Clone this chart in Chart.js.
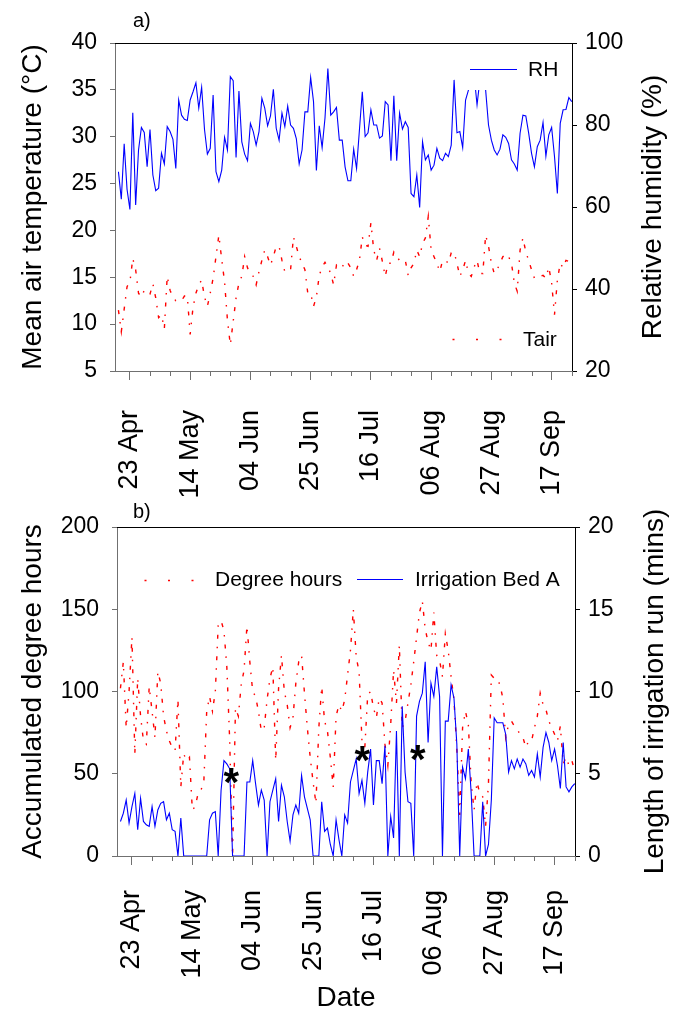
<!DOCTYPE html>
<html>
<head>
<meta charset="utf-8">
<script src="https://cdn.jsdelivr.net/npm/chart.js@4.4.1/dist/chart.umd.min.js"></script>
<style>
  body { margin: 0; background: #fff; }
  #wrap { position: relative; width: 675px; height: 1012px; background: #fff; }
  canvas { position: absolute; left: 0; }
</style>
</head>
<body>
<div id="wrap">
  <canvas id="airChart" width="675" height="500" style="top:0"></canvas>
  <canvas id="irrChart" width="675" height="512" style="top:500px"></canvas>
</div>
<script>
const FONT = "'Liberation Sans', Arial, sans-serif";
const GREY = '#707070';

// day 0 = 19 Apr, one value per day up to 24 Sep
const tickDays = [4, 25, 46, 67, 88, 109, 130, 151];
const tickLabels = ['23 Apr', '14 May', '04 Jun', '25 Jun', '16 Jul', '06 Aug', '27 Aug', '17 Sep'];

const tair = [
  11.5, 9.2, 11.6, 14.0, 14.5, 17.0, 15.8, 13.3, 12.9, 13.6,
  13.2, 13.2, 14.3, 12.8, 10.7, 11.0, 9.5, 15.1, 13.6, 12.9,
  12.5, 12.5, 12.5, 13.0, 13.0, 8.9, 11.8, 13.3, 14.2, 14.7,
  12.9, 11.9, 13.3, 14.9, 17.2, 19.5, 16.9, 14.5, 10.4, 7.8,
  10.3, 12.8, 14.4, 15.1, 17.2, 16.0, 15.4, 15.1, 14.2, 15.6,
  16.8, 17.9, 17.2, 16.3, 17.2, 18.3, 18.3, 16.8, 15.6, 15.8,
  15.8, 19.3, 18.3, 17.2, 16.5, 15.8, 13.3, 13.3, 11.9, 12.9,
  15.2, 16.1, 16.6, 16.1, 15.4, 14.2, 16.3, 16.0,
  16.3, 16.0, 16.5, 16.0, 15.1, 15.8, 16.8, 19.3, 18.4, 18.3,
  20.8, 17.9, 16.8, 18.1, 16.7, 15.1, 16.5, 16.5, 17.7, 17.2,
  16.8, 16.7, 16.8, 15.2, 16.0, 16.5, 17.9, 17.2, 18.6, 19.2,
  21.5, 17.9, 17.2, 16.5, 15.6, 16.8, 16.8, 16.5, 17.6, 17.7,
  16.5, 15.1, 15.8, 16.8, 15.4, 15.1, 16.1, 16.8, 15.4, 15.4,
  19.5, 18.3, 16.5, 15.4, 15.8, 16.5, 17.2, 17.5, 17.2, 16.5,
  14.4, 13.5, 17.9, 19.2, 17.7, 16.8, 15.8, 14.9, 15.1, 15.1,
  15.2, 14.9, 16.1, 14.4, 11.0, 14.7, 16.5, 16.0, 16.8, 16.7,
  16.8
];

const rh = [
  68.6, 61.9, 75.4, 64.3, 59.4, 83.0, 60.5, 73.9, 79.4, 78.2,
  69.8, 78.9, 67.8, 64.0, 64.6, 73.1, 70.5, 79.6, 78.4, 76.5,
  69.4, 86.1, 82.4, 81.4, 81.1, 86.1, 88.1, 90.3, 84.1, 89.2,
  78.9, 72.9, 74.3, 87.3, 68.6, 66.2, 69.0, 77.0, 73.9, 91.8,
  90.8, 72.1, 88.3, 75.9, 72.9, 71.3, 80.4, 78.4, 75.1, 78.4,
  86.5, 84.1, 79.8, 82.2, 88.7, 79.2, 76.3, 82.9, 79.6, 84.6,
  80.0, 79.2, 76.7, 70.5, 73.9, 83.2, 83.2, 91.6, 85.7, 68.9,
  79.8, 74.5, 81.7, 93.8, 82.4, 83.2, 84.3, 76.3,
  76.3, 69.8, 66.4, 66.4, 74.1, 69.4, 78.8, 88.1, 77.2, 78.1,
  83.7, 80.0, 80.0, 76.8, 77.3, 85.7, 84.9, 71.3, 87.1, 71.3,
  82.9, 79.0, 80.8, 79.4, 63.3, 62.5, 67.8, 59.9, 75.9, 71.5,
  72.7, 69.0, 70.2, 74.3, 71.9, 71.3, 73.1, 72.3, 75.1, 91.0,
  78.1, 78.4, 74.5, 86.1, 88.5, 91.0, 92.0, 84.9, 91.0, 92.0,
  88.5, 80.0, 76.3, 73.9, 72.7, 74.1, 77.6, 77.0, 75.5, 71.5,
  70.5, 69.0, 78.0, 82.4, 82.2, 78.0, 73.1, 69.8, 74.7, 76.3,
  80.6, 72.4, 77.6, 79.4, 72.3, 63.3, 80.4, 83.7, 83.8, 86.7,
  85.7
];

const degreeHours = [
  102, 118, 78, 100, 133, 62, 108, 85, 70, 68,
  103, 88, 72, 112, 105, 85, 76, 70, 66, 64,
  95, 42, 62, 58, 60, 28, 30, 38, 40, 45,
  88, 97, 88, 100, 140, 143, 137, 115, 70, 0,
  90, 85, 104, 113, 140, 118, 100, 97, 88, 76,
  78, 95, 108, 115, 58, 102, 122, 100, 92, 78,
  84, 105, 118, 122, 99, 78, 60, 45, 32, 78,
  103, 82, 76, 60, 42, 85, 92,
  88, 95, 110, 125, 150, 121, 112, 70, 66, 98,
  100, 90, 84, 96, 93, 68, 55, 80, 113, 93,
  128, 78, 82, 93, 104, 118, 133, 148, 155, 138,
  130, 125, 148, 122, 119, 109, 135, 125, 109, 95,
  65, 25, 78, 88, 80, 44, 28, 45, 38, 36,
  18, 44, 110, 108, 108, 104, 96, 72, 80, 82,
  79, 77, 74, 72, 66, 70, 70, 78, 85, 99,
  92, 89, 82, 78, 74, 70, 79, 56, 60, 55,
  58, 52
];

const irrigationBedA = [
  2.1, 2.6, 3.4, 2.0, 3.0, 3.8, 1.6, 3.5, 2.1, 1.9,
  1.8, 3.0, 1.8, 2.8, 3.2, 3.3, 2.2, 2.6, 1.6, 1.5,
  0, 2.3, 0, 0, 0, 0, 0, 0, 0, 0,
  0, 2.2, 2.6, 2.7, 0, 4.0, 5.8, 5.6, 5.3, 0,
  0, 0, 0, 0, 4.5, 4.5, 5.8, 4.4, 3.1, 4.0,
  3.4, 0, 3.3, 4.0, 4.7, 2.1, 4.3, 3.6, 2.1, 0.9,
  2.5, 3.1, 2.6, 4.9, 3.6, 2.9, 2.2, 0, 0, 0,
  3.3, 1.5, 1.7, 0.7, 0, 2.2, 1.0,
  0, 2.5, 2.0, 4.5, 5.2, 5.9, 3.8, 4.6, 3.2, 5.1,
  6.5, 3.1, 5.8, 5.8, 4.4, 6.7, 0, 2.4, 1.1, 7.6,
  0, 9.1, 5.1, 3.3, 3.2, 0, 8.5, 9.4, 9.9, 11.8,
  6.9, 10.5, 9.7, 11.5, 9.7, 0, 8.2, 8.2, 10.4, 9.6,
  6.8, 0, 5.4, 4.7, 6.5, 3.8, 0, 0, 0, 3.3,
  0, 0.7, 3.4, 8.4, 8.1, 8.1, 8.1, 7.4, 5.1, 5.8,
  5.3, 5.9, 5.4, 5.9, 5.6, 4.9, 5.2, 4.8, 6.2, 4.8,
  6.6, 7.5, 6.9, 5.8, 6.5, 5.5, 4.1, 6.9, 4.2, 3.9,
  4.2, 4.4
];

// asterisks in panel b (day, degree hours)
const starDays = [38.6, 84.2, 103.5];
const starHours = [48.5, 62.3, 62.7];

function points(values) {
  return values.map((v, i) => ({x: i, y: v}));
}

function dateAxis(height, pad) {
  return {
    type: 'linear', position: 'bottom', min: -1.2, max: 158.1,
    afterBuildTicks: s => { s.ticks = tickDays.map(v => ({value: v})); },
    afterFit: s => { s.height = height; },
    border: {color: GREY},
    grid: {drawOnChartArea: false, tickLength: 9, color: GREY},
    ticks: {
      autoSkip: false, maxRotation: 90, minRotation: 90, padding: pad, color: '#000',
      font: {family: FONT, size: 27},
      callback: v => tickLabels[tickDays.indexOf(v)]
    }
  };
}

function leftAxis(min, max, step, width, title) {
  return {
    position: 'left', min: min, max: max,
    afterFit: s => { s.width = width; },
    border: {color: GREY},
    grid: {drawOnChartArea: false, tickLength: 5, color: GREY},
    ticks: {stepSize: step, padding: 13, color: '#000', font: {family: FONT, size: 23}},
    title: {display: true, text: title, color: '#000', font: {family: FONT, size: 28, lineHeight: 1.2}, padding: {top: 16, bottom: 0}}
  };
}

function rightAxis(min, max, step, width) {
  return {
    position: 'right', min: min, max: max,
    afterFit: s => { s.width = width; },
    border: {color: '#000'},
    grid: {drawOnChartArea: false, tickLength: 5, color: '#000'},
    ticks: {stepSize: step, padding: 8, color: '#000', font: {family: FONT, size: 23}}
  };
}

const minorTicks = {
  id: 'minorTicks',
  afterDraw(chart) {
    const {ctx, chartArea, scales} = chart;
    const x = scales.x;
    ctx.save();
    ctx.strokeStyle = GREY;
    ctx.lineWidth = 1;
    for (let d = tickDays[0] - 7; d <= x.max; d += 7) {
      if (d < x.min || tickDays.includes(d)) continue;
      const px = Math.round(x.getPixelForValue(d)) + 0.5;
      ctx.beginPath();
      ctx.moveTo(px, chartArea.bottom);
      ctx.lineTo(px, chartArea.bottom + 5);
      ctx.stroke();
    }
    // black top frame
    ctx.strokeStyle = '#000';
    ctx.beginPath();
    ctx.moveTo(chartArea.left, Math.round(chartArea.top) + 0.5);
    ctx.lineTo(chartArea.right, Math.round(chartArea.top) + 0.5);
    ctx.stroke();
    ctx.restore();
  }
};

function rightTitle(ctx, text, x, y) {
  ctx.save();
  ctx.translate(x, y);
  ctx.rotate(-Math.PI / 2);
  ctx.font = '28px ' + FONT;
  ctx.fillStyle = '#000';
  ctx.textAlign = 'center';
  ctx.textBaseline = 'middle';
  ctx.fillText(text, 0, 0);
  ctx.restore();
}

function legendLine(ctx, x1, x2, y, color, dash) {
  ctx.save();
  ctx.strokeStyle = color;
  ctx.lineWidth = dash ? 1.6 : 1;
  ctx.setLineDash(dash || []);
  ctx.beginPath();
  ctx.moveTo(x1, y);
  ctx.lineTo(x2, y);
  ctx.stroke();
  ctx.restore();
}

function label(ctx, text, x, y, size) {
  ctx.save();
  ctx.font = size + 'px ' + FONT;
  ctx.fillStyle = '#000';
  ctx.textAlign = 'left';
  ctx.textBaseline = 'middle';
  ctx.fillText(text, x, y);
  ctx.restore();
}

const airDecor = {
  id: 'airDecor',
  afterDatasetsDraw(chart) {
    const ctx = chart.ctx;
    ctx.save();
    ctx.fillStyle = '#fff';
    ctx.fillRect(467, 50, 100, 40);
    ctx.restore();
    legendLine(ctx, 470, 517, 69.5, '#0000ff');
    label(ctx, 'RH', 528, 70, 21);
    legendLine(ctx, 452.5, 502, 339.5, '#ff0000', [2, 21.5]);
    label(ctx, 'Tair', 523, 340, 21);
  },
  afterDraw(chart) {
    const ctx = chart.ctx;
    label(ctx, 'a)', 133, 21, 20);
    rightTitle(ctx, 'Relative humidity (%)', 653, (chart.chartArea.top + chart.chartArea.bottom) / 2);
  }
};

const irrDecor = {
  id: 'irrDecor',
  afterDatasetsDraw(chart) {
    const ctx = chart.ctx;
    const {x, y} = chart.scales;
    legendLine(ctx, 144.5, 194, 80.5, '#ff0000', [2, 21.5]);
    label(ctx, 'Degree hours', 215, 80, 21);
    legendLine(ctx, 357, 403, 79.5, '#0000ff');
    label(ctx, 'Irrigation Bed A', 415, 80, 21);
    ctx.save();
    ctx.font = 'bold 40px ' + FONT;
    ctx.fillStyle = '#000';
    ctx.textAlign = 'left';
    ctx.textBaseline = 'alphabetic';
    const m = ctx.measureText('*');
    starDays.forEach((d, i) => {
      const cx = x.getPixelForValue(d);
      const cy = y.getPixelForValue(starHours[i]);
      const x0 = cx - (m.actualBoundingBoxRight - m.actualBoundingBoxLeft) / 2;
      const y0 = cy + (m.actualBoundingBoxAscent - m.actualBoundingBoxDescent) / 2;
      ctx.fillText('*', x0, y0);
    });
    ctx.restore();
  },
  afterDraw(chart) {
    const ctx = chart.ctx;
    label(ctx, 'b)', 133, 12, 20);
    rightTitle(ctx, 'Length of irrigation run (mins)', 655, (chart.chartArea.top + chart.chartArea.bottom) / 2);
  }
};

const redDash = [4, 8, 1.5, 8];

new Chart(document.getElementById('airChart'), {
  type: 'line',
  data: {
    datasets: [
      {label: 'RH', data: points(rh), yAxisID: 'y2', borderColor: '#0000ff', borderWidth: 1.1, pointRadius: 0, tension: 0, order: 0},
      {label: 'Tair', data: points(tair), yAxisID: 'y', borderColor: '#ff0000', borderWidth: 1.4, borderDash: redDash, pointRadius: 0, tension: 0, order: 1}
    ]
  },
  options: {
    responsive: false,
    animation: false,
    devicePixelRatio: 1,
    layout: {padding: {top: 43, left: 0, right: 0, bottom: 0}},
    plugins: {legend: {display: false}, tooltip: {enabled: false}},
    scales: {
      x: dateAxis(129, 30),
      y: leftAxis(5, 40, 5, 115, 'Mean air temperature (°C)'),
      y2: rightAxis(20, 100, 20, 103)
    }
  },
  plugins: [minorTicks, airDecor]
});

new Chart(document.getElementById('irrChart'), {
  type: 'line',
  data: {
    datasets: [
      {label: 'Irrigation Bed A', data: points(irrigationBedA), yAxisID: 'y2', borderColor: '#0000ff', borderWidth: 1.1, pointRadius: 0, tension: 0, order: 0},
      {label: 'Degree hours', data: points(degreeHours), yAxisID: 'y', borderColor: '#ff0000', borderWidth: 1.4, borderDash: redDash, pointRadius: 0, tension: 0, order: 1}
    ]
  },
  options: {
    responsive: false,
    animation: false,
    devicePixelRatio: 1,
    layout: {padding: {top: 27, left: 0, right: 0, bottom: 0}},
    plugins: {legend: {display: false}, tooltip: {enabled: false}},
    scales: {
      x: Object.assign(dateAxis(156, 25), {
        title: {display: true, text: 'Date', color: '#000', font: {family: FONT, size: 28, lineHeight: 1}, padding: {top: 0, bottom: 0}}
      }),
      y: leftAxis(0, 200, 50, 117, 'Accumulated degree hours'),
      y2: rightAxis(0, 20, 5, 100)
    }
  },
  plugins: [minorTicks, irrDecor]
});
</script>
</body>
</html>
